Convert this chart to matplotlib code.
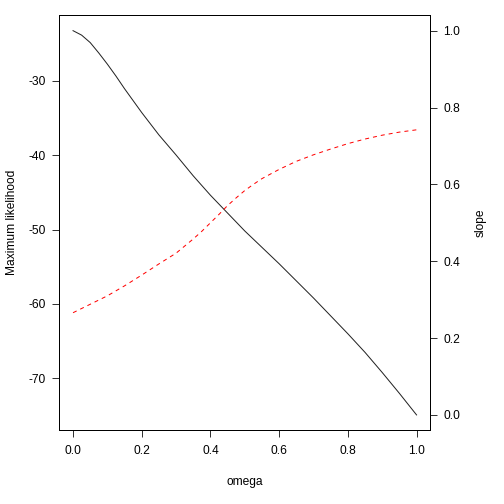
import matplotlib
matplotlib.use("Agg")
import matplotlib.pyplot as plt

omega = [0.0, 0.025, 0.05, 0.075, 0.1, 0.125, 0.15, 0.2, 0.25, 0.3, 0.35, 0.375,
         0.4, 0.425, 0.45, 0.475, 0.5, 0.525, 0.55, 0.6, 0.65, 0.7, 0.75, 0.8,
         0.85, 0.9, 0.95, 1.0]
max_lik = [-23.3, -23.9, -24.9, -26.3, -27.8, -29.4, -31.1, -34.3, -37.3, -40.0,
           -42.8, -44.1, -45.4, -46.6, -47.8, -49.0, -50.2, -51.3, -52.4, -54.6,
           -56.9, -59.2, -61.6, -64.0, -66.5, -69.2, -72.0, -74.9]
slope = [0.266, 0.277, 0.288, 0.299, 0.310, 0.323, 0.336, 0.364, 0.393, 0.421,
         0.458, 0.478, 0.500, 0.522, 0.545, 0.565, 0.584, 0.600, 0.615, 0.639,
         0.660, 0.677, 0.692, 0.706, 0.718, 0.728, 0.736, 0.742]
x_ticks = [0.0, 0.2, 0.4, 0.6, 0.8, 1.0]
left_ticks = [-30, -40, -50, -60, -70]
right_ticks = [0.0, 0.2, 0.4, 0.6, 0.8, 1.0]

plt.rcParams['font.family'] = ['Liberation Sans', 'DejaVu Sans']
plt.rcParams['font.size'] = 12

W = 504.0
fig = plt.figure(figsize=(7, 7), dpi=72)
L, R, T, B = 59.3, 430.3, 15.3, 430.3
ax = fig.add_axes([L / W, 1 - B / W, (R - L) / W, (B - T) / W])

def pad_lim(lo, hi):
    d = (hi - lo) * 0.04
    return lo - d, hi + d

ax.plot(omega, max_lik, color='#222222', lw=1.0)
ax.set_xlim(*pad_lim(0, 1))
ax.set_ylim(*pad_lim(min(max_lik), max(max_lik)))
ax.set_xticks(x_ticks)
ax.set_xticklabels([f"{v:.1f}" for v in x_ticks])
ax.set_yticks(left_ticks)
ax.set_yticklabels([str(v) for v in left_ticks])
ax.tick_params(axis='both', direction='out', length=7.2, width=1, color='#333333')
ax.tick_params(axis='x', pad=7)
ax.tick_params(axis='y', pad=6)
for s in ax.spines.values():
    s.set_linewidth(1)
    s.set_color('black')

ax2 = ax.twinx()
ax2.plot(omega, slope, color='red', lw=1.0, linestyle=(0, (4, 4)))
ax2.set_ylim(*pad_lim(0, 1))
ax2.set_yticks(right_ticks)
ax2.set_yticklabels([f"{v:.1f}" for v in right_ticks])
ax2.tick_params(axis='y', direction='out', length=7.2, width=1, pad=6, color='#333333')

fig.text((L + R) / 2 / W, 1 - 481.7 / W, "omega", ha='center', va='center')
fig.text(12.5 / W, 1 - (T + B) / 2 / W, "Maximum likelihood", rotation=90, ha='center', va='center')
fig.text(481.0 / W, 1 - (T + B) / 2 / W, "slope", rotation=90, ha='center', va='center')

fig.savefig("out.png", dpi=72)
